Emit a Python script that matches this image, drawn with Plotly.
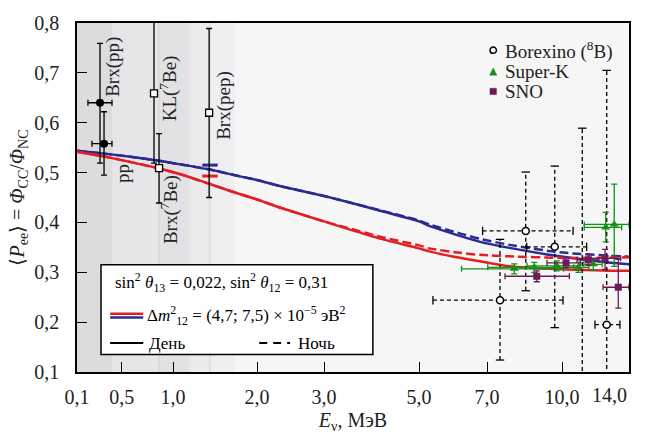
import numpy as np
import plotly.graph_objects as go

# ---------------- axis scale (non-uniform energy axis) ----------------
TICK_E = [0.1, 0.5, 1.0, 2.0, 3.0, 5.0, 7.0, 10.0, 14.0]
TICK_LABELS = ["0,1", "0,5", "1,0", "2,0", "3,0", "5,0", "7,0", "10,0", ""]
LAST_TICK_LABEL = "14,0"
SCALE_POS = [0, 44.7, 96, 180, 247, 342, 410, 485, 552]


def u(E):
    return np.interp(np.asarray(E, dtype=float), TICK_E, SCALE_POS)


# ---------------- theory curves ----------------
curve_E = [0.1, 0.3, 0.5, 0.85, 1.1, 1.44, 1.7, 2.0, 2.34, 3.0, 3.5, 4.2, 5.0, 5.3, 6.2, 6.8, 7.9, 9.9, 12.9, 14.0]
blue_day = [0.544, 0.539, 0.534, 0.524, 0.516, 0.506, 0.496, 0.485, 0.473, 0.453, 0.441, 0.423, 0.402, 0.393, 0.373, 0.361, 0.349, 0.332, 0.319, 0.316]
blue_night = [0.544, 0.539, 0.534, 0.524, 0.516, 0.506, 0.496, 0.485, 0.473, 0.453, 0.441, 0.424, 0.404, 0.396, 0.378, 0.367, 0.355, 0.340, 0.333, 0.331]
red_day = [0.542, 0.534, 0.525, 0.509, 0.496, 0.477, 0.462, 0.446, 0.430, 0.402, 0.387, 0.367, 0.348, 0.342, 0.329, 0.322, 0.312, 0.306, 0.303, 0.303]
red_night = [0.542, 0.534, 0.525, 0.509, 0.496, 0.477, 0.462, 0.446, 0.430, 0.402, 0.389, 0.371, 0.354, 0.348, 0.339, 0.335, 0.332, 0.329, 0.329, 0.330]

# pep theory markers
pep_E = 1.44
pep_blue = 0.515
pep_red = 0.493

# ---------------- low-energy measurements ----------------
pp_E = [0.306, 0.342]
pp_Elo = [0.198, 0.234]
pp_Ehi = [0.413, 0.413]
pp_P = [0.640, 0.558]
pp_Plo = [0.519, 0.495]
pp_Phi = [0.759, 0.622]

sq_E = [0.815, 0.864, 1.43]
sq_P = [0.659, 0.509, 0.620]
sq_Plo = [0.519, 0.439, 0.450]
sq_Phi = [0.830, 0.578, 0.789]

# ---------------- Borexino 8B ----------------
bx_E = [7.52, 8.55, 9.71, 12.67, 11.21]
bx_Elo = [5.41, 6.87, 8.59, 11.97, 11.21]
bx_Ehi = [10.06, 10.66, 11.47, 13.46, 11.21]
bx_P = [0.244, 0.383, 0.351, 0.195, 0.030]
bx_Plo = [0.124, 0.263, 0.189, -0.315, -0.530]
bx_Phi = [0.366, 0.501, 0.513, 0.705, 0.589]

# ---------------- Super-K ----------------
sk_E = [8.09, 8.89, 9.79, 10.98, 11.87, 12.61, 13.12]
sk_Elo = [6.25, 7.03, 8.60, 10.30, 11.30, 11.33, 11.33]
sk_Ehi = [10.10, 10.70, 11.00, 11.60, 12.40, 13.56, 14.20]
sk_P = [0.307, 0.310, 0.313, 0.310, 0.316, 0.390, 0.396]
sk_Plo = [0.297, 0.300, 0.303, 0.300, 0.304, 0.361, 0.312]
sk_Phi = [0.317, 0.320, 0.323, 0.320, 0.328, 0.420, 0.477]

# ---------------- SNO ----------------
sno_E = [8.99, 10.24, 11.57, 12.57, 13.36]
sno_Elo = [7.72, 9.40, 10.90, 11.60, 12.45]
sno_Ehi = [10.44, 11.10, 12.20, 13.50, 14.20]
sno_P = [0.292, 0.319, 0.325, 0.328, 0.270]
sno_Plo = [0.281, 0.309, 0.314, 0.306, 0.228]
sno_Phi = [0.303, 0.329, 0.336, 0.346, 0.326]

# ---------------- shaded source regions (MeV) ----------------
band_edges = [0.1, 0.42, 0.862, 1.2, 1.44, 1.73]
band_colors = ["#dcdcde", "#e6e6e8", "#e2e2e4", "#ebebed", "#efeff1"]
line_edges = [0.862, 1.44]

legend_names = ["Borexino (<sup>8</sup>B)", "Super-K", "SNO"]

RED = "#e41e26"
BLUE = "#2a2a90"
GREEN = "#13901a"
PURPLE = "#6c1a58"
FONT = "Liberation Serif"
TXT = "#222222"

fig = go.Figure()


def errs(c, lo, hi):
    c, lo, hi = np.asarray(c), np.asarray(lo), np.asarray(hi)
    return hi - c, c - lo


# theory curves
ux = u(curve_E)
DASH = "9px,4px"
fig.add_trace(go.Scatter(x=ux, y=blue_day, mode="lines", line=dict(color=BLUE, width=2.5, shape="spline", smoothing=0.6), showlegend=False))
fig.add_trace(go.Scatter(x=ux, y=blue_night, mode="lines", line=dict(color=BLUE, width=2.5, dash=DASH, shape="spline", smoothing=0.6), showlegend=False))
fig.add_trace(go.Scatter(x=ux, y=red_day, mode="lines", line=dict(color=RED, width=2.5, shape="spline", smoothing=0.6), showlegend=False))
fig.add_trace(go.Scatter(x=ux, y=red_night, mode="lines", line=dict(color=RED, width=2.5, dash=DASH, shape="spline", smoothing=0.6), showlegend=False))

# pep markers
for val, col in [(pep_blue, BLUE), (pep_red, RED)]:
    fig.add_trace(go.Scatter(x=u([pep_E]), y=[val], mode="markers",
                             marker=dict(symbol="line-ew-open", size=11, color=col, line=dict(color=col, width=3)),
                             showlegend=False))

# pp points
ph, pl = errs(pp_P, pp_Plo, pp_Phi)
xh = u(pp_Ehi) - u(pp_E)
xl = u(pp_E) - u(pp_Elo)
fig.add_trace(go.Scatter(x=u(pp_E), y=pp_P, mode="markers",
                         marker=dict(symbol="circle", size=8, color="black"),
                         error_y=dict(type="data", array=ph, arrayminus=pl, color="black", thickness=1.3, width=3),
                         error_x=dict(type="data", array=xh, arrayminus=xl, color="black", thickness=1.3, width=3),
                         showlegend=False))

# open squares (KL 7Be, Brx 7Be, Brx pep)
sh, sl = errs(sq_P, sq_Plo, sq_Phi)
fig.add_trace(go.Scatter(x=u(sq_E), y=sq_P, mode="markers",
                         marker=dict(symbol="square", size=7, color="white", line=dict(color="black", width=1.3)),
                         error_y=dict(type="data", array=sh, arrayminus=sl, color="black", thickness=1.3, width=3),
                         showlegend=False))


# Borexino 8B with dashed error bars
def seg(xa, xb, ya, yb):
    X, Y = [], []
    for a, b, c, d in zip(xa, xb, ya, yb):
        X += [a, b, None]
        Y += [c, d, None]
    return X, Y


bu = u(bx_E)
vX, vY = seg(bu, bu, bx_Plo, bx_Phi)
fig.add_trace(go.Scatter(x=vX, y=vY, mode="lines+markers",
                         line=dict(color="black", width=1.3, dash="4px,3px"),
                         marker=dict(symbol="line-ew-open", size=6, line=dict(color="black", width=1.3)),
                         showlegend=False))
hX, hY = seg(u(bx_Elo), u(bx_Ehi), bx_P, bx_P)
fig.add_trace(go.Scatter(x=hX, y=hY, mode="lines+markers",
                         line=dict(color="black", width=1.3, dash="4px,3px"),
                         marker=dict(symbol="line-ns-open", size=6, line=dict(color="black", width=1.3)),
                         showlegend=False))
fig.add_trace(go.Scatter(x=bu, y=bx_P, mode="markers",
                         marker=dict(symbol="circle", size=7, color="white", line=dict(color="black", width=1.5)),
                         showlegend=False))

# Super-K
kh, kl = errs(sk_P, sk_Plo, sk_Phi)
fig.add_trace(go.Scatter(x=u(sk_E), y=sk_P, mode="markers",
                         marker=dict(symbol="triangle-up", size=8, color=GREEN),
                         error_y=dict(type="data", array=kh, arrayminus=kl, color=GREEN, thickness=1.3, width=3),
                         error_x=dict(type="data", array=u(sk_Ehi) - u(sk_E), arrayminus=u(sk_E) - u(sk_Elo),
                                      color=GREEN, thickness=1.3, width=3),
                         showlegend=False))

# SNO
nh, nl = errs(sno_P, sno_Plo, sno_Phi)
fig.add_trace(go.Scatter(x=u(sno_E), y=sno_P, mode="markers",
                         marker=dict(symbol="square", size=7, color=PURPLE),
                         error_y=dict(type="data", array=nh, arrayminus=nl, color=PURPLE, thickness=1.3, width=3),
                         error_x=dict(type="data", array=u(sno_Ehi) - u(sno_E), arrayminus=u(sno_E) - u(sno_Elo),
                                      color=PURPLE, thickness=1.3, width=3),
                         showlegend=False))

# background bands
shapes = []
for i, c in enumerate(band_colors):
    shapes.append(dict(type="rect", xref="x", yref="paper", x0=float(u(band_edges[i])), x1=float(u(band_edges[i + 1])),
                       y0=0, y1=1, fillcolor=c, line=dict(width=0), layer="below"))
for e in line_edges:
    shapes.append(dict(type="line", xref="x", yref="paper", x0=float(u(e)), x1=float(u(e)), y0=0, y1=1,
                       line=dict(color="#d2d2d4", width=1), layer="below"))

# ---- upper-right legend (symbols drawn as shapes, labels as annotations) ----
LX, LTX = 0.754, 0.772
LY = [0.922, 0.860, 0.804]
dx, dy = 3.2 / 552, 3.2 / 358
shapes.append(dict(type="circle", xref="paper", yref="paper", x0=LX - dx, x1=LX + dx, y0=LY[0] - dy, y1=LY[0] + dy,
                   fillcolor="white", line=dict(color="black", width=1.5)))
tx, ty = 3.6 / 552, 3.4 / 358
shapes.append(dict(type="path", xref="paper", yref="paper",
                   path=f"M {LX - tx},{LY[1] - ty} L {LX + tx},{LY[1] - ty} L {LX},{LY[1] + ty * 1.2} Z",
                   fillcolor=GREEN, line=dict(color=GREEN, width=0.5)))
shapes.append(dict(type="rect", xref="paper", yref="paper", x0=LX - dx, x1=LX + dx, y0=LY[2] - dy, y1=LY[2] + dy,
                   fillcolor=PURPLE, line=dict(color=PURPLE, width=0.5)))

# inner legend box
shapes.append(dict(type="rect", xref="paper", yref="paper", x0=0.0435, x1=0.536, y0=0.050, y1=0.307,
                   fillcolor="white", line=dict(color="black", width=1.5)))
shapes.append(dict(type="line", xref="paper", yref="paper", x0=0.060, x1=0.120, y0=0.167, y1=0.167,
                   line=dict(color=RED, width=2.5)))
shapes.append(dict(type="line", xref="paper", yref="paper", x0=0.060, x1=0.120, y0=0.156, y1=0.156,
                   line=dict(color=BLUE, width=2.5)))
shapes.append(dict(type="line", xref="paper", yref="paper", x0=0.060, x1=0.120, y0=0.083, y1=0.083,
                   line=dict(color="black", width=2)))
shapes.append(dict(type="line", xref="paper", yref="paper", x0=0.330, x1=0.386, y0=0.083, y1=0.083,
                   line=dict(color="black", width=2, dash="8px,6px")))

ann = []
for name, yp in zip(legend_names, LY):
    ann.append(dict(xref="paper", yref="paper", x=LTX, y=yp, xanchor="left", yanchor="middle", showarrow=False,
                    text=name, font=dict(family=FONT, size=19, color=TXT)))

lf = dict(family=FONT, size=17, color="black")
ann.append(dict(xref="paper", yref="paper", x=0.066, y=0.257, xanchor="left", yanchor="middle", showarrow=False,
                text="sin<sup>2</sup> <i>θ</i><sub>13</sub> = 0,022, sin<sup>2</sup> <i>θ</i><sub>12</sub> = 0,31", font=lf))
ann.append(dict(xref="paper", yref="paper", x=0.124, y=0.162, xanchor="left", yanchor="middle", showarrow=False,
                text="Δ<i>m</i><sup>2</sup><sub>12</sub> = (4,7; 7,5) × 10<sup>−5</sup> эВ<sup>2</sup>", font=lf))
ann.append(dict(xref="paper", yref="paper", x=0.126, y=0.083, xanchor="left", yanchor="middle", showarrow=False,
                text="День", font=lf))
ann.append(dict(xref="paper", yref="paper", x=0.396, y=0.083, xanchor="left", yanchor="middle", showarrow=False,
                text="Ночь", font=lf))

rf = dict(family=FONT, size=19, color=TXT)
for txt, xp, yp in [("Brx(pp)", 0.065, 0.874), ("KL(<sup>7</sup>Be)", 0.165, 0.813), ("Brx(pep)", 0.266, 0.765),
                    ("pp", 0.0815, 0.570), ("Brx(<sup>7</sup>Be)", 0.168, 0.466)]:
    ann.append(dict(xref="paper", yref="paper", x=xp, y=yp, xanchor="center", yanchor="middle", showarrow=False,
                    text=txt, textangle=-90, font=rf))

# last x tick label, kept inside the figure like the reference
ann.append(dict(xref="paper", yref="paper", x=1.0, y=0, xanchor="right", yanchor="top", yshift=-10,
                showarrow=False, text=LAST_TICK_LABEL, font=dict(family=FONT, size=20, color=TXT)))

fig.update_layout(
    width=648, height=440,
    margin=dict(l=77, r=19, t=17, b=65),
    paper_bgcolor="white", plot_bgcolor="#f6f6f6",
    font=dict(family=FONT, size=20, color=TXT),
    showlegend=False,
    shapes=shapes, annotations=ann,
    xaxis=dict(range=[0, 552], tickmode="array", tickvals=list(u(TICK_E)), ticktext=TICK_LABELS,
               ticks="inside", ticklen=10, tickwidth=1.3, tickcolor="black",
               showline=True, mirror=True, linecolor="black", linewidth=1.5,
               showgrid=False, zeroline=False, ticklabelstandoff=6,
               tickfont=dict(family=FONT, size=20, color=TXT),
               title=dict(text="<i>E</i><sub>ν</sub>, МэВ", font=dict(family=FONT, size=20, color=TXT), standoff=6)),
    yaxis=dict(range=[0.1, 0.8], tickmode="array", tickvals=[0.1, 0.2, 0.3, 0.4, 0.5, 0.6, 0.7, 0.8],
               ticktext=["0,1", "0,2", "0,3", "0,4", "0,5", "0,6", "0,7", "0,8"],
               ticks="inside", ticklen=10, tickwidth=1.3, tickcolor="black",
               showline=True, mirror=True, linecolor="black", linewidth=1.5,
               showgrid=False, zeroline=False, ticklabelstandoff=12,
               tickfont=dict(family=FONT, size=20, color=TXT),
               title=dict(text="⟨<i>P</i><sub>ee</sub>⟩ = <i>Φ</i><sub>CC</sub>/<i>Φ</i><sub>NC</sub>",
                          font=dict(family=FONT, size=20, color=TXT), standoff=4)),
)

fig.write_html("out.html")
